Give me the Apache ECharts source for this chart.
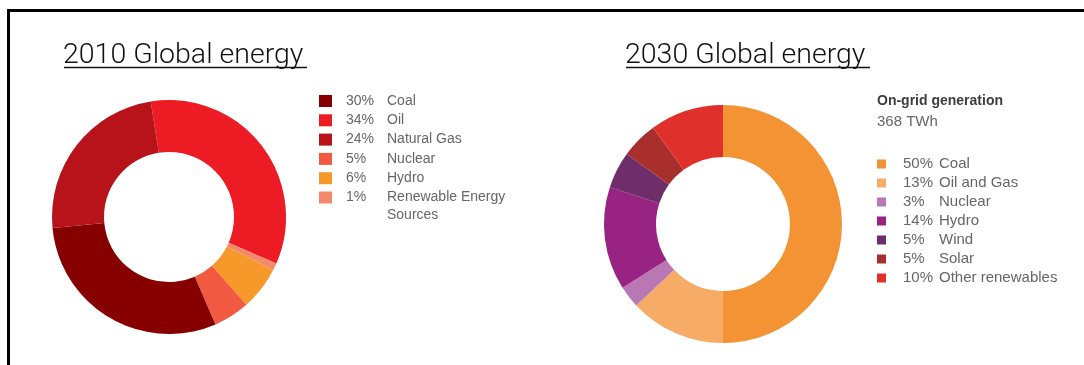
<!DOCTYPE html>
<html>
<head>
<meta charset="utf-8">
<script src="https://cdn.jsdelivr.net/npm/echarts@6/dist/echarts.min.js"></script>
<style>
  html, body { margin: 0; padding: 0; background: #fff; }
  #chart { width: 1084px; height: 365px; }
</style>
</head>
<body>
<div id="chart"></div>
<script>
// 2010 mix (legend order)
var cats2010 = ['Coal', 'Oil', 'Natural Gas', 'Nuclear', 'Hydro', 'Renewable Energy'];
var share2010 = [30, 34, 24, 5, 6, 1];
// clockwise order round the 2010 ring, starting just left of 12 o'clock
var ring2010 = ['Oil', 'Renewable Energy', 'Hydro', 'Nuclear', 'Coal', 'Natural Gas'];

// 2030 mix (legend order = ring order)
var cats2030 = ['Coal', 'Oil and Gas', 'Nuclear', 'Hydro', 'Wind', 'Solar', 'Other renewables'];
var share2030 = [50, 13, 3, 14, 5, 5, 10];

var titles = ['2010 Global energy', '2030 Global energy'];
var gridTitle = 'On-grid generation';
var gridTotal = '368 TWh';

var colors2010 = ['#870000', '#ED1C24', '#B8131B', '#F15A40', '#F7982A', '#F58A6B'];
var colors2030 = ['#F39333', '#F6AC67', '#B977B5', '#982382', '#6E2D6B', '#A82F2B', '#E0302C'];

// names must be unique between the two legends, so key them by year
function key(year, name) { return year + '|' + name }
function label(k) { return k.split('|')[1] }

var pct = {};
cats2010.forEach(function (c, i) { pct[key('2010', c)] = share2010[i] + '%' });
cats2030.forEach(function (c, i) { pct[key('2030', c)] = share2030[i] + '%' });

var data2010 = ring2010.map(function (c) {
    var i = cats2010.indexOf(c);
    return { name: key('2010', c), value: share2010[i], itemStyle: { color: colors2010[i] } };
});
var data2030 = cats2030.map(function (c, i) {
    return { name: key('2030', c), value: share2030[i], itemStyle: { color: colors2030[i] } };
});

var legendFont = 'Liberation Sans';
var titleStyle = { fontFamily: 'Roboto', fontWeight: 300, fontSize: 28.5, color: '#111' };

var option = {
    animation: false,
    title: [
        { text: titles[0], left: 63, top: 41, padding: 0, textStyle: titleStyle },
        { text: titles[1], left: 625, top: 41, padding: 0, textStyle: titleStyle },
        {
            text: gridTitle, subtext: gridTotal, left: 877, top: 94, padding: 0, itemGap: 5,
            textStyle: { fontFamily: legendFont, fontWeight: 'bold', fontSize: 14, color: '#3d3d3d', lineHeight: 15 },
            subtextStyle: { fontFamily: legendFont, fontSize: 15, color: '#666', lineHeight: 15 }
        }
    ],
    legend: [
        {
            orient: 'vertical', left: 319, top: 94, padding: 0,
            itemWidth: 13, itemHeight: 12, itemGap: 5.3, icon: 'rect',
            selectedMode: false,
            data: cats2010.map(function (c) { return key('2010', c) }),
            formatter: function (n) { return '{p|' + pct[n] + '}{n|' + label(n) + '}' },
            textStyle: {
                rich: {
                    p: { width: 41, padding: [0, 0, 0, 9], fontFamily: legendFont, fontSize: 14, color: '#666', lineHeight: 14 },
                    n: { fontFamily: legendFont, fontSize: 14, color: '#666', lineHeight: 14 }
                }
            }
        },
        {
            orient: 'vertical', left: 877, top: 156.5, padding: 0,
            itemWidth: 9, itemHeight: 9, itemGap: 4, icon: 'rect',
            selectedMode: false,
            data: cats2030.map(function (c) { return key('2030', c) }),
            formatter: function (n) { return '{p|' + pct[n] + '}{n|' + label(n) + '}' },
            textStyle: {
                rich: {
                    p: { width: 36, padding: [0, 0, 0, 12], fontFamily: legendFont, fontSize: 15, color: '#666', lineHeight: 15 },
                    n: { fontFamily: legendFont, fontSize: 15, color: '#666', lineHeight: 15 }
                }
            }
        }
    ],
    graphic: [
        {
            type: 'rect', z: -1, silent: true,
            shape: { x: 8.5, y: 10.5, width: 1200, height: 500 },
            style: { fill: 'none', stroke: '#000', lineWidth: 3 }
        },
        {
            type: 'line', silent: true,
            shape: { x1: 64, y1: 67.5, x2: 307, y2: 67.5 },
            style: { stroke: '#111', lineWidth: 1.5 }
        },
        {
            type: 'line', silent: true,
            shape: { x1: 626, y1: 67.5, x2: 870, y2: 67.5 },
            style: { stroke: '#111', lineWidth: 1.5 }
        },
        {
            type: 'text', silent: true, left: 387, top: 208,
            style: { text: 'Sources', fontFamily: legendFont, fontSize: 14, fill: '#666' }
        }
    ],
    series: [
        {
            type: 'pie', center: [169, 217], radius: [65, 117], startAngle: 99,
            clockwise: true, silent: true, label: { show: false }, labelLine: { show: false },
            itemStyle: { borderWidth: 0 },
            data: data2010
        },
        {
            type: 'pie', center: [723, 224], radius: [67, 119], startAngle: 90,
            clockwise: true, silent: true, label: { show: false }, labelLine: { show: false },
            itemStyle: { borderWidth: 0 },
            data: data2030
        }
    ]
};

var chart = echarts.init(document.getElementById('chart'));
chart.setOption(option);
</script>
</body>
</html>
